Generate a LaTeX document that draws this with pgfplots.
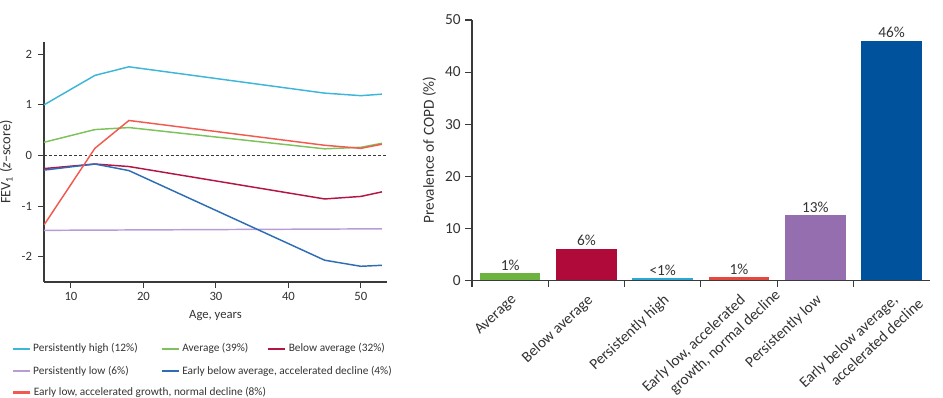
\documentclass[border=0pt]{standalone}
\usepackage{pgfplots}
\pgfplotsset{compat=1.18}
\usepackage{fontspec}
\setmainfont{Carlito}
\definecolor{axisc}{HTML}{3A3A3A}
\definecolor{labc}{HTML}{333333}
\definecolor{lPH}{HTML}{3DB6D9}
\definecolor{lAV}{HTML}{7DC25A}
\definecolor{lBA}{HTML}{B31645}
\definecolor{lPL}{HTML}{B79CD8}
\definecolor{lEB}{HTML}{2E6DB4}
\definecolor{elred}{HTML}{F25A50}
\definecolor{bAV}{HTML}{6CB33F}
\definecolor{bBA}{HTML}{B00A3A}
\definecolor{bPH}{HTML}{2AA9D6}
\definecolor{bEL}{HTML}{E9473D}
\definecolor{bPL}{HTML}{946EAF}
\definecolor{bEB}{HTML}{00529C}
\pgfplotsset{
  mylegend/.style={
    legend cell align=left,
    legend style={anchor=north west, draw=none, fill=none,
      inner sep=0pt, outer sep=0pt, row sep=5pt, column sep=0pt,
      font=\fontsize{8.5}{10}\selectfont, text=labc},
    legend image code/.code={\draw[##1] (0pt,0pt) -- (12.75pt,0pt);},
  }
}
\begin{document}
\begin{tikzpicture}
\useasboundingbox (0,0) rectangle (707.25pt,298.5pt);
% ---------------- left panel ----------------
\begin{axis}[
  at={(33pt,87pt)}, anchor=south west, scale only axis,
  width=257.25pt, height=180pt,
  xmin=6.28, xmax=53.6, ymin=-2.5, ymax=2.24,
  axis x line*=bottom, axis y line*=left,
  axis line style={draw=axisc, line width=0.9pt, -},
  tick align=outside, major tick length=4.5pt,
  tick style={draw=axisc, line width=0.8pt},
  xtick={10,20,30,40,50}, ytick={-2,-1,0,1,2},
  /pgf/number format/assume math mode=true,
  ticklabel style={font=\fontsize{9.5}{11}\selectfont, text=labc},
  yticklabel style={xshift=-1pt},
  xlabel={Age, years},
  ylabel={FEV\textsubscript{1} (\textit{z}–score)},
  xlabel style={font=\fontsize{9.5}{11}\selectfont, text=labc},
  ylabel style={font=\fontsize{10.8}{12}\selectfont, text=labc},
  mylegend,
  legend columns=3,
  legend style={at={(-0.093,-0.246)}},
  every axis plot/.append style={line width=1.1pt},
]
\addplot[draw=axisc, line width=1.1pt, dash pattern=on 2.2pt off 1.6pt, forget plot] coordinates {(6.28,0) (53.6,0)};
\addplot[lPH] coordinates {(6.3,1.00) (13.3,1.58) (18,1.75) (45,1.23) (50,1.18) (52.9,1.21)};
\addlegendentry{\makebox[94pt][l]{Persistently high (12\%)}}
\addplot[lAV] coordinates {(6.3,0.26) (13.3,0.51) (18,0.55) (45,0.13) (50,0.16) (52.9,0.24)};
\addlegendentry{\makebox[62pt][l]{Average (39\%)}}
\addplot[lBA] coordinates {(6.3,-0.26) (13.3,-0.17) (18,-0.22) (45,-0.86) (50,-0.81) (52.9,-0.72)};
\addlegendentry{Below average (32\%)}
\addplot[lPL] coordinates {(6.3,-1.48) (52.9,-1.45)};
\addlegendentry{\makebox[94pt][l]{Persistently low (6\%)}}
\addplot[lEB] coordinates {(6.3,-0.29) (13.3,-0.17) (18,-0.30) (45,-2.07) (50,-2.19) (52.9,-2.17)};
\addlegendentry{\makebox[62pt][l]{Early below average, accelerated decline (4\%)}}
\addplot[elred, forget plot] coordinates {(6.3,-1.37) (13.3,0.14) (18,0.69) (45,0.20) (50,0.14) (52.9,0.22)};
\end{axis}
% third legend row, set as the legend of an axis that draws nothing else
\begin{axis}[
  at={(33pt,87pt)}, anchor=south west, scale only axis,
  width=257.25pt, height=180pt,
  xmin=0, xmax=1, ymin=0, ymax=1, hide axis,
  mylegend,
  legend style={at={(-0.093,-0.428)}},
  legend image code/.code={\draw[draw=elred, line width=1.6pt, solid] (0pt,0pt) -- (12.75pt,0pt);},
]
\addlegendimage{draw=elred, line width=1.6pt}
\addlegendentry{Early low, accelerated growth, normal decline (8\%)}
\end{axis}
% ---------------- right panel ----------------
\begin{axis}[
  at={(354pt,88.3pt)}, anchor=south west, scale only axis,
  width=343.3pt, height=195.2pt,
  xmin=-0.5, xmax=5.5, ymin=0, ymax=50,
  axis x line*=bottom, axis y line*=left,
  axis line style={draw=axisc, line width=0.9pt, -},
  tick align=outside, major tick length=5pt,
  tick style={draw=axisc, line width=0.8pt},
  ytick={0,10,20,30,40,50},
  xtick={0,1,2,3,4,5},
  xticklabels={Average, Below average, Persistently high, {Early low, accelerated\\\hspace*{14pt}\rlap{growth, normal decline}}, Persistently low, {Early below average,\\\hspace*{18pt}\rlap{accelerated decline}}},
  xtick style={draw=none},
  extra x ticks={-0.5,0.5,1.5,2.5,3.5,4.5},
  extra x tick labels={},
  extra x tick style={xtick style={draw=axisc, line width=0.8pt}},
  /pgf/number format/assume math mode=true,
  yticklabel style={font=\fontsize{11.5}{13}\selectfont, text=labc},
  xticklabel style={font=\fontsize{11.5}{15}\selectfont, text=labc, rotate=43, anchor=north east, align=left},
  ylabel={Prevalence of COPD (\%)},
  ylabel style={font=\fontsize{11.5}{13}\selectfont, text=labc},
  ybar, bar width=45.5pt, bar shift=0pt,
  nodes near coords, point meta=explicit symbolic,
  nodes near coords style={font=\fontsize{11.5}{13}\selectfont, text=labc, anchor=south, inner sep=2pt},
]
\addplot[ybar, bar shift=0pt, fill=bAV, draw=none] coordinates {(0,1.3) [1\%]};
\addplot[ybar, bar shift=0pt, fill=bBA, draw=none] coordinates {(1,6.1) [6\%]};
\addplot[ybar, bar shift=0pt, fill=bPH, draw=none] coordinates {(2,0.4) [<1\%]};
\addplot[ybar, bar shift=0pt, fill=bEL, draw=none] coordinates {(3,0.6) [1\%]};
\addplot[ybar, bar shift=0pt, fill=bPL, draw=none] coordinates {(4,12.5) [13\%]};
\addplot[ybar, bar shift=0pt, fill=bEB, draw=none] coordinates {(5,46.0) [46\%]};
\end{axis}
\end{tikzpicture}
\end{document}
